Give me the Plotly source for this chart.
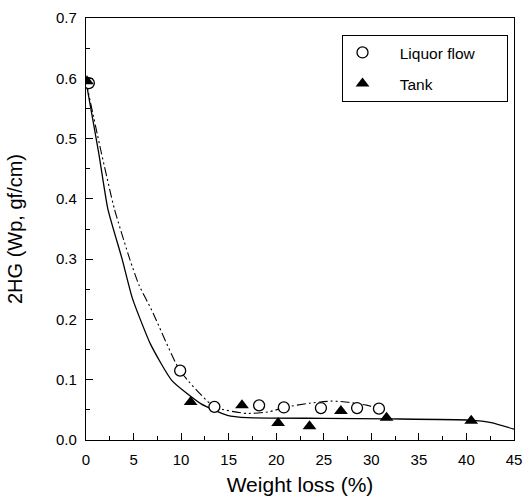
import plotly.graph_objects as go

# Measured data
liquor_x = [0.3, 9.9, 13.5, 18.2, 20.8, 24.7, 28.5, 30.8]
liquor_y = [0.592, 0.115, 0.055, 0.0575, 0.054, 0.053, 0.053, 0.052]

tank_x = [0.1, 11.0, 16.4, 20.2, 23.5, 26.8, 31.6, 40.5]
tank_y = [0.595, 0.063, 0.0575, 0.028, 0.023, 0.048, 0.037, 0.032]

# Fitted curves
tank_fit_x = [0.0, 1.34, 2.3, 3.8, 4.88, 6.78, 9.01, 12.1, 14.86, 17.0, 25.0, 32.0, 40.3, 42.6, 45.0]
tank_fit_y = [0.595, 0.476, 0.383, 0.300, 0.235, 0.159, 0.099, 0.060, 0.041, 0.037, 0.036, 0.035, 0.033, 0.029, 0.018]

liq_fit_x = [0.0, 1.62, 2.99, 4.6, 5.57, 6.95, 9.88, 13.49, 16.9, 19.3, 20.8, 23.5, 25.9, 27.6, 29.6, 30.75]
liq_fit_y = [0.595, 0.476, 0.383, 0.300, 0.257, 0.214, 0.115, 0.055, 0.044, 0.047, 0.054, 0.061, 0.0646, 0.0625, 0.0575, 0.052]

x_ticks = [0, 5, 10, 15, 20, 25, 30, 35, 40, 45]
y_ticks = [0.0, 0.1, 0.2, 0.3, 0.4, 0.5, 0.6, 0.7]
y_tick_labels = ["0.0", "0.1", "0.2", "0.3", "0.4", "0.5", "0.6", "0.7"]

FONT = "Liberation Sans, Arial, sans-serif"
NB = "\u00a0"

fig = go.Figure()
fig.add_trace(go.Scatter(x=tank_fit_x, y=tank_fit_y, mode="lines",
                         line=dict(color="black", width=1.3, shape="spline", smoothing=0.5),
                         showlegend=False, hoverinfo="skip"))
fig.add_trace(go.Scatter(x=liq_fit_x, y=liq_fit_y, mode="lines",
                         line=dict(color="black", width=1.1, shape="spline", smoothing=0.5,
                                   dash="9px,3px,2px,3px,2px,3px"),
                         showlegend=False, hoverinfo="skip"))
fig.add_trace(go.Scatter(x=liquor_x, y=liquor_y, mode="markers",
                         name=NB * 4 + "Liquor flow" + NB * 6, legendgroup="a",
                         marker=dict(symbol="circle", size=11, color="white",
                                     line=dict(color="black", width=1.3))))
fig.add_trace(go.Scatter(x=tank_x, y=tank_y, mode="markers",
                         name=NB * 4 + "Tank", legendgroup="b",
                         marker=dict(symbol="triangle-up", size=12, color="black",
                                     line=dict(color="black", width=0))))

fig.update_layout(
    width=531, height=503,
    margin=dict(l=86, r=9, t=14, b=63),
    paper_bgcolor="white", plot_bgcolor="white",
    font=dict(family=FONT, size=15, color="black"),
    legend=dict(x=0.597, y=0.96, xanchor="left", yanchor="top",
                bordercolor="black", borderwidth=1, bgcolor="white",
                font=dict(size=15.5, family=FONT), tracegroupgap=8,
                itemwidth=30),
)
fig.update_xaxes(range=[0, 45], tickvals=x_ticks, ticktext=[str(v) for v in x_ticks],
                 ticks="inside", ticklen=7, tickcolor="black", tickwidth=1,
                 ticklabelstandoff=6,
                 minor=dict(dtick=2.5, tick0=0, ticks="inside", ticklen=4, tickcolor="black"),
                 showline=True, linecolor="black", linewidth=1.3, mirror=True,
                 showgrid=False, zeroline=False,
                 title=dict(text="Weight loss (%)", font=dict(size=21, family=FONT), standoff=10),
                 tickfont=dict(size=15))
fig.update_yaxes(range=[0, 0.7], tickvals=y_ticks, ticktext=y_tick_labels,
                 ticks="inside", ticklen=7, tickcolor="black", tickwidth=1,
                 ticklabelstandoff=5,
                 minor=dict(dtick=0.05, tick0=0, ticks="inside", ticklen=4, tickcolor="black"),
                 showline=True, linecolor="black", linewidth=1.3, mirror=True,
                 showgrid=False, zeroline=False,
                 title=dict(text="2HG (Wp, gf/cm)", font=dict(size=20, family=FONT), standoff=27),
                 tickfont=dict(size=15))

fig.write_html("out.html")
